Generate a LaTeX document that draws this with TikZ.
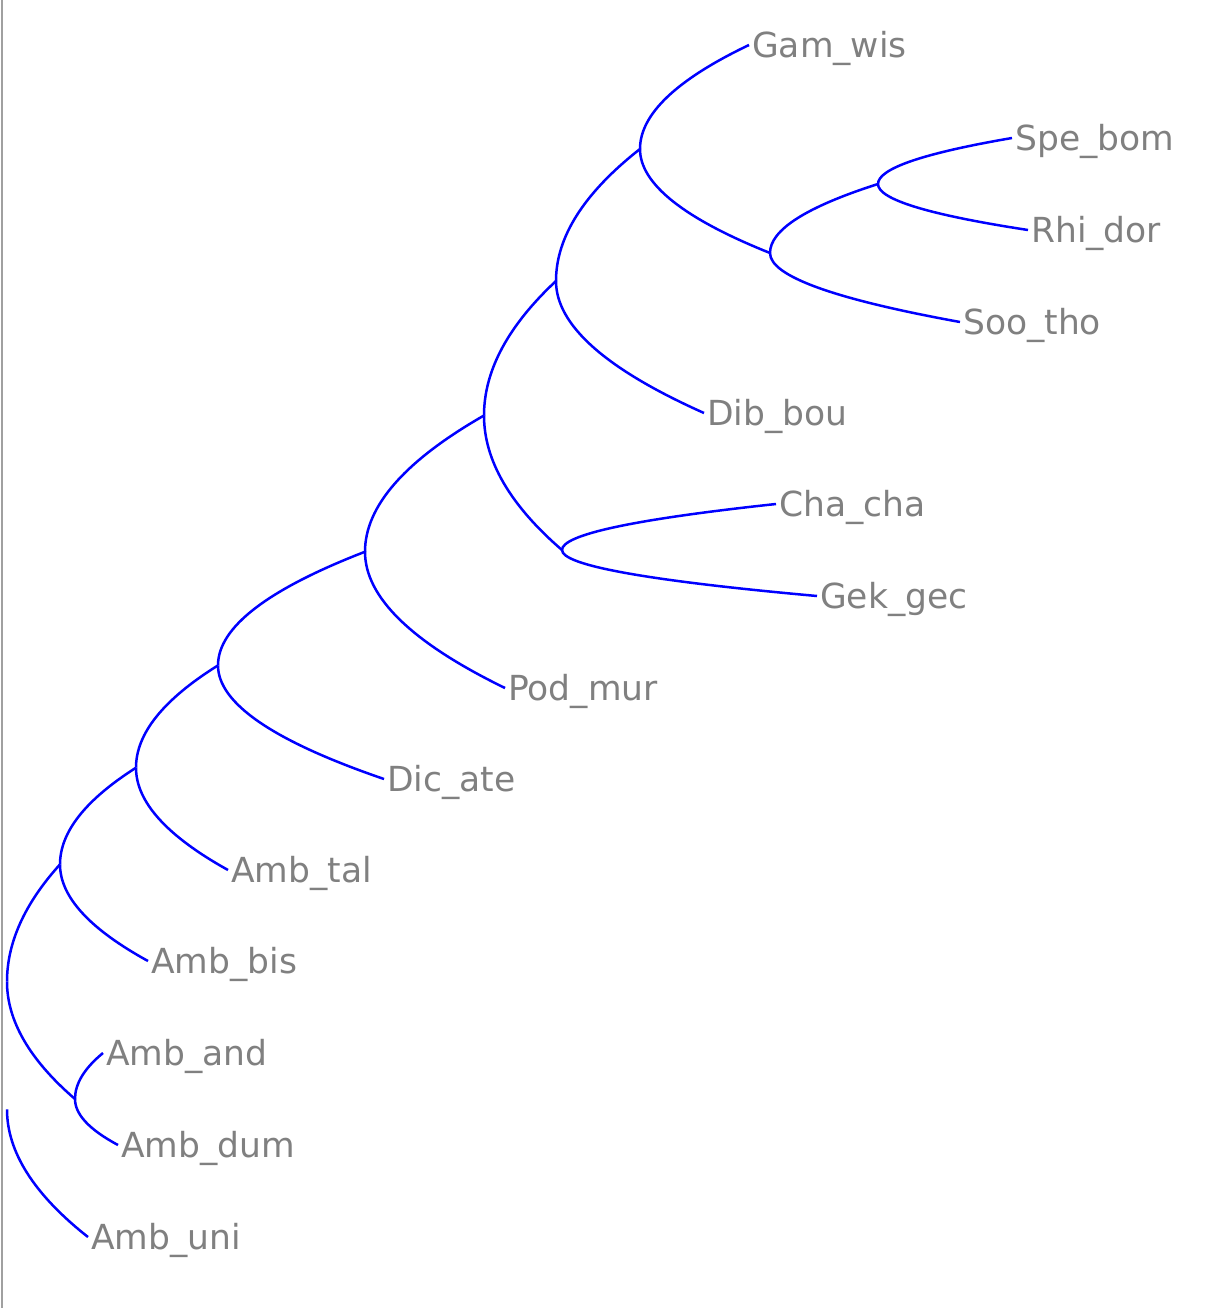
\documentclass[tikz,border=0pt]{standalone}
\usepackage{fontspec}
\setmainfont{DejaVu Sans}
\usetikzlibrary{calc}
\definecolor{labelgray}{RGB}{128,128,128}
\definecolor{framegray}{RGB}{160,160,160}
\begin{document}
\begin{tikzpicture}[x=1pt,y=-1pt,
  curvebranch/.style={draw=blue, line width=2.5pt,
    to path={let \p1=(\tikztostart), \p2=(\tikztotarget) in
      .. controls (\x1,{(2*\y1+\y2)/3}) and ({(2*\x1+\x2)/3},{(\y1+2*\y2)/3}) .. (\tikztotarget)}},
  lbl/.style={anchor=base west, inner sep=0pt, text=labelgray,
    font=\fontsize{34.5}{40}\selectfont},
  frameline/.style={draw=framegray, line width=2pt}]
\useasboundingbox (0,0) rectangle (1226,1308);
\fill[white] (0,0) rectangle (1226,1308);
\draw[frameline] (2.2,0) -- (2.2,1308);

% leaves (branch ends)
\coordinate (gam) at (749,45);
\coordinate (spe) at (1012,138);
\coordinate (rhi) at (1028,230);
\coordinate (soo) at (960,322);
\coordinate (dib) at (704,413);
\coordinate (cha) at (776,504);
\coordinate (gek) at (817,596);
\coordinate (pod) at (505,688);
\coordinate (dic) at (384,779);
\coordinate (tal) at (228,870);
\coordinate (bis) at (148,961);
\coordinate (and) at (103,1053);
\coordinate (dum) at (118,1145);
\coordinate (uni) at (88,1237);

% internal nodes
\coordinate (n1) at (878,184);
\coordinate (n2) at (770,253);
\coordinate (n3) at (640,149);
\coordinate (n4) at (556,281);
\coordinate (n5) at (562,550);
\coordinate (n6) at (484,415.5);
\coordinate (n7) at (365,551.75);
\coordinate (n8) at (218,665.4);
\coordinate (n9) at (136,767.7);
\coordinate (n10) at (60,864.4);
\coordinate (n11) at (75,1099);
\coordinate (nx) at (7,981.7);
\coordinate (root) at (7,1109.4);

% branches
\draw[curvebranch] (n1) to (spe);
\draw[curvebranch] (n1) to (rhi);
\draw[curvebranch] (n2) to (n1);
\draw[curvebranch] (n2) to (soo);
\draw[curvebranch] (n3) to (gam);
\draw[curvebranch] (n3) to (n2);
\draw[curvebranch] (n4) to (n3);
\draw[curvebranch] (n4) to (dib);
\draw[curvebranch] (n5) to (cha);
\draw[curvebranch] (n5) to (gek);
\draw[curvebranch] (n6) to (n4);
\draw[curvebranch] (n6) to (n5);
\draw[curvebranch] (n7) to (n6);
\draw[curvebranch] (n7) to (pod);
\draw[curvebranch] (n8) to (n7);
\draw[curvebranch] (n8) to (dic);
\draw[curvebranch] (n9) to (n8);
\draw[curvebranch] (n9) to (tal);
\draw[curvebranch] (n10) to (n9);
\draw[curvebranch] (n10) to (bis);
\draw[curvebranch] (n11) to (and);
\draw[curvebranch] (n11) to (dum);
\draw[curvebranch] (nx) to (n10);
\draw[curvebranch] (nx) to (n11);
\draw[curvebranch] (root) to (uni);

% labels
\node[lbl] (Lgam) at ([xshift=3pt,yshift=-12.4pt]gam) {Gam\_wis};
\node[lbl] (Lspe) at ([xshift=3pt,yshift=-12.4pt]spe) {Spe\_bom};
\node[lbl] (Lrhi) at ([xshift=3pt,yshift=-12.4pt]rhi) {Rhi\_dor};
\node[lbl] (Lsoo) at ([xshift=3pt,yshift=-12.4pt]soo) {Soo\_tho};
\node[lbl] (Ldib) at ([xshift=3pt,yshift=-12.4pt]dib) {Dib\_bou};
\node[lbl] (Lcha) at ([xshift=3pt,yshift=-12.4pt]cha) {Cha\_cha};
\node[lbl] (Lgek) at ([xshift=3pt,yshift=-12.4pt]gek) {Gek\_gec};
\node[lbl] (Lpod) at ([xshift=3pt,yshift=-12.4pt]pod) {Pod\_mur};
\node[lbl] (Ldic) at ([xshift=3pt,yshift=-12.4pt]dic) {Dic\_ate};
\node[lbl] (Ltal) at ([xshift=3pt,yshift=-12.4pt]tal) {Amb\_tal};
\node[lbl] (Lbis) at ([xshift=3pt,yshift=-12.4pt]bis) {Amb\_bis};
\node[lbl] (Land) at ([xshift=3pt,yshift=-12.4pt]and) {Amb\_and};
\node[lbl] (Ldum) at ([xshift=3pt,yshift=-12.4pt]dum) {Amb\_dum};
\node[lbl] (Luni) at ([xshift=3pt,yshift=-12.4pt]uni) {Amb\_uni};
\end{tikzpicture}
\end{document}
